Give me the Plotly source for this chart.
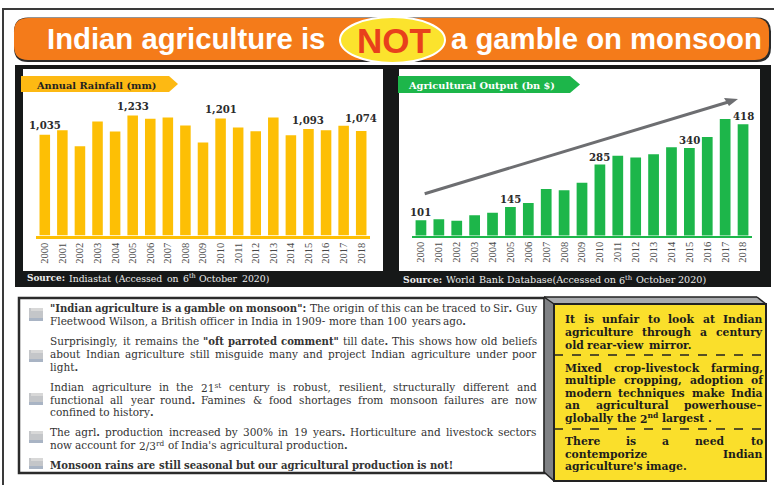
import re
import plotly.graph_objects as go

W, H = 774, 485

# ---------- data ----------
years = [str(y) for y in range(2000, 2019)]
rainfall = [1035, 1082, 918, 1172, 1069, 1233, 1199, 1213, 1130, 956,
            1201, 1110, 1072, 1213, 1031, 1093, 1082, 1127, 1074]
output = [101, 105, 100, 118, 126, 145, 158, 204, 200, 225,
          285, 314, 308, 319, 342, 340, 376, 435, 418]
rain_labelled = {"2000": "1,035", "2005": "1,233", "2010": "1,201", "2015": "1,093", "2018": "1,074"}
out_labelled = {"2000": "101", "2005": "145", "2010": "285", "2015": "340", "2018": "418"}

title_left = "Indian agriculture is"
title_not = "NOT"
title_right = "a gamble on monsoon"
rain_title = "Annual Rainfall (mm)"
out_title = "Agricultural Output (bn $)"
rain_source = "<b>Source:</b> Indiastat (Accessed on 6<sup>th</sup> October 2020)"
out_source = "<b>Source:</b> World Bank Database(Accessed on 6<sup>th</sup> October 2020)"

body_lines = [
    ('<b>"Indian agriculture is a gamble on monsoon":</b> The origin of this can be traced to Sir<b>.</b> Guy', True),
    ("Fleetwood Wilson, a British officer in India in 1909- more than 100 years ago<b>.</b>", False),
    ('Surprisingly, it remains the <b>"oft parroted comment"</b> till date<b>.</b> This shows how old beliefs', True),
    ("about Indian agriculture still misguide many and project Indian agriculture under poor", True),
    ("light<b>.</b>", False),
    ("Indian agriculture in the 21<sup>st</sup> century is robust, resilient, structurally different and", True),
    ("functional all year round<b>.</b> Famines &amp; food shortages from monsoon failures are now", True),
    ("confined to history<b>.</b>", False),
    ("The agrl<b>.</b> production increased by 300% in 19 years<b>.</b> Horticulture and livestock sectors", True),
    ("now account for 2/3<sup>rd</sup> of India's agricultural production<b>.</b>", False),
    ("<b>Monsoon rains are still seasonal but our agricultural production is not!</b>", False),
]
side_lines = [
    ("It is unfair to look at Indian", True),
    ("agriculture through a century", True),
    ("old rear-view mirror.", False),
    ("Mixed crop-livestock farming,", True),
    ("multiple cropping, adoption of", True),
    ("modern techniques make India", True),
    ("an agricultural powerhouse–", True),
    ("globally the 2<sup>nd</sup> largest .", False),
    ("There is a need to", True),
    ("contemporize Indian", True),
    ("agriculture's image.", False),
]

# ---------- layout constants ----------
body_y = [308, 321, 341, 354, 367, 387, 400, 412, 432, 445, 465]
side_y = [319, 332, 345, 368, 380, 393, 405, 418, 441, 454, 466]
bullet_y = [(308, 321), (350, 362), (393, 405), (431, 443), (458, 469)]
rain_rise = {"2018": 5}
SERIF = "Liberation Serif"
WIDE = "DejaVu Serif"
SANS = "Liberation Sans"

# DejaVu Serif character widths (em), used to justify lines word by word
LOW = "abcdefghijklmnopqrstuvwxyz"
UPP = "ABCDEFGHIJKLMNOPQRSTUVWXYZ"
REG = dict(zip(LOW, [.596,.64,.56,.64,.592,.37,.64,.642,.32,.32,.59,.32,.948,.642,.602,.64,.64,.478,.513,.402,.642,.565,.83,.564,.565,.526]))
REG.update(zip(UPP, [.722,.735,.765,.802,.73,.694,.799,.872,.395,.401,.747,.664,1.024,.875,.82,.673,.82,.753,.685,.667,.843,.722,1.028,.712,.66,.695]))
BLD = dict(zip(LOW, [.648,.699,.608,.699,.636,.43,.699,.727,.38,.362,.693,.38,1.058,.727,.667,.699,.699,.527,.563,.462,.727,.65,.961,.643,.65,.582]))
BLD.update(zip(UPP, [.776,.845,.796,.867,.762,.71,.854,.945,.468,.473,.869,.703,1.107,.914,.871,.752,.871,.831,.722,.744,.872,.776,1.138,.776,.714,.73]))
REG.update({".":.318, ",":.318, "-":.338, "–":.5, '"':.46, "'":.275, ":":.337, "!":.402, "/":.337, "&":.89, "%":.95, "(":.39, ")":.39, "$":.636})
BLD.update({".":.348, ",":.348, "-":.415, "–":.5, '"':.52, "'":.306, ":":.4, "!":.438, "/":.365, "&":1.005, "%":1.002, "(":.473, ")":.473, "$":.696})
for d_ in "0123456789":
    REG[d_] = .636
    BLD[d_] = .696


def word_width(word, size, bold):
    w, sup = 0.0, False
    for tok in re.split(r"(<[^>]+>|&amp;)", word):
        if tok == "<b>": bold = True
        elif tok == "</b>": bold = False
        elif tok == "<sup>": sup = True
        elif tok == "</sup>": sup = False
        elif tok == "&amp;":
            w += (BLD if bold else REG)["&"] * size
        elif tok:
            for c in tok:
                w += (BLD if bold else REG).get(c, .6) * size * (0.7 if sup else 1)
    return w


annotations = []


def text(x, y, s, size, color, family=WIDE, anchor="left"):
    annotations.append(dict(x=x / W, y=1 - y / H, xref="paper", yref="paper", text=s, showarrow=False,
                            xanchor=anchor, yanchor="middle", borderpad=0,
                            font=dict(family=family, size=size, color=color)))


def line(x0, x1, y, s, size, color, justify=True, bold=False, bold_scale=0.96):
    words = s.split(" ")
    state = bold
    items = []
    for wd in words:
        start = state
        wsize = size * bold_scale if (start or wd.startswith("<b>")) else size
        w = word_width(wd, wsize, start)
        for m in re.findall(r"</?b>", wd):
            state = m == "<b>"
        shown = wd
        if start:
            shown = "<b>" + shown
        if state:
            shown = shown + "</b>"
        items.append((shown, w, wsize))
    total = sum(it[1] for it in items)
    gap = (x1 - x0 - total) / (len(items) - 1) if justify and len(items) > 1 else 0.318 * size
    x = x0
    for shown, w, wsize in items:
        text(x, y, shown, wsize, color)
        x += w + gap


# ---------- shapes ----------
shapes = []


def rect(x0, y0, x1, y1, fill, ln=None, lw=0, layer="below"):
    shapes.append(dict(type="rect", xref="paper", yref="paper", x0=x0 / W, x1=x1 / W, y0=1 - y0 / H, y1=1 - y1 / H,
                       fillcolor=fill, line=dict(color=ln or fill, width=lw), layer=layer))


def poly(points, fill, layer="below"):
    d = "M" + " L".join(f"{x / W:.5f},{1 - y / H:.5f}" for x, y in points) + " Z"
    shapes.append(dict(type="path", xref="paper", yref="paper", path=d, fillcolor=fill, line=dict(width=0), layer=layer))


def round_rect(x0, y0, x1, y1, r, fill):
    X = lambda v: f"{v / W:.5f}"
    Y = lambda v: f"{1 - v / H:.5f}"
    d = (f"M{X(x0 + r)},{Y(y0)} L{X(x1 - r)},{Y(y0)} Q{X(x1)},{Y(y0)} {X(x1)},{Y(y0 + r)} "
         f"L{X(x1)},{Y(y1 - r)} Q{X(x1)},{Y(y1)} {X(x1 - r)},{Y(y1)} L{X(x0 + r)},{Y(y1)} "
         f"Q{X(x0)},{Y(y1)} {X(x0)},{Y(y1 - r)} L{X(x0)},{Y(y0 + r)} Q{X(x0)},{Y(y0)} {X(x0 + r)},{Y(y0)} Z")
    shapes.append(dict(type="path", xref="paper", yref="paper", path=d, fillcolor=fill, line=dict(width=0), layer="below"))


def hline(x0, x1, y0, y1, color, width, dash="solid", layer="below"):
    shapes.append(dict(type="line", xref="paper", yref="paper", x0=x0 / W, x1=x1 / W, y0=1 - y0 / H, y1=1 - y1 / H,
                       line=dict(color=color, width=width, dash=dash), layer=layer))


# outer frame
rect(3, 9, 790, 500, "white", "#3a3a3a", 2)
# banner
round_rect(14, 17.5, 771, 62, 14, "#2a2a2a")
round_rect(14, 18, 769, 60, 14, "#F47B1A")
# ellipse
shapes.append(dict(type="circle", xref="paper", yref="paper", x0=340 / W, x1=445 / W, y0=1 - 63 / H, y1=1 - 17 / H,
                   fillcolor="#FBE32D", line=dict(color="white", width=2), layer="below"))
# black panel
rect(15, 65, 771, 287, "#161818")
rect(23, 69, 383, 271, "white")
rect(399, 69, 760, 271, "white")
# ribbons
poly([(21, 76), (169, 76), (178, 84), (169, 92), (21, 92)], "#FDB913")
poly([(398, 76), (570, 76), (580, 84.5), (570, 93), (398, 93)], "#1DB64A")
# growth arrow
hline(424.7, 730, 193.7, 101.5, "#6D6E71", 3, layer="above")
poly([(738, 99), (724, 98), (729, 106)], "#6D6E71", layer="above")
# text box
rect(19, 298, 545, 473, "white", "#2b2b2b", 2.5)
for y0, y1 in bullet_y:
    rect(29, y0, 43, y1, "#C4C6C9")
    rect(31, y0, 43, y0 + 3, "#D8D8D8")
    rect(29, y1 - 3, 43, y1, "#A9B4C4")
# 3-D side box
poly([(544, 297), (757, 297), (766, 304), (554, 304)], "#A9ABAE")
poly([(544, 297), (554, 304), (554, 481), (544, 472)], "#808285")
hline(544, 757, 297, 297, "#222222", 1.5)
hline(757, 766, 297, 304, "#222222", 1.5)
hline(544, 554, 297, 304, "#222222", 1.5)
hline(544, 544, 297, 472, "#222222", 1.5)
hline(544, 554, 472, 481, "#222222", 1.5)
rect(554, 304, 766, 481, "#FADF2B", "#222222", 2)
hline(554, 766, 355, 355, "#222222", 1.5, "dash")
hline(554, 766, 429, 429, "#222222", 1.5, "dash")

# ---------- texts ----------
text(186, 38.5, f"<b>{title_left}</b>", 29.3, "white", SANS, "center")
text(606, 38.5, f"<b>{title_right}</b>", 29.3, "white", SANS, "center")
text(393.5, 40, f"<b>{title_not}</b>", 35, "#E8401C", SANS, "center")
text(35, 85, f"<b>{rain_title}</b>", 9.8, "#231F20")
text(407, 85.5, f"<b>{out_title}</b>", 9.8, "white")
line(26, 268, 278, rain_source, 9.3, "#EDEDED")
line(402, 705.6, 279.5, out_source, 9.6, "#EDEDED")
for (s, j), y in zip(body_lines, body_y):
    line(49, 535.7, y, s, 10.5, "#333333", j)
for (s, j), y in zip(side_lines, side_y):
    line(564, 761.7, y, s, 10.8, "#1c1c1c", j, bold=True, bold_scale=1)

# value labels, anchored to the bars through the axes (category position = index)
for yr, lab in rain_labelled.items():
    i = years.index(yr)
    annotations.append(dict(x=i, y=rainfall[i], xref="x", yref="y", text=f"<b>{lab}</b>",
                            showarrow=False, yanchor="bottom", yshift=rain_rise.get(yr, 1.5),
                            font=dict(family=WIDE, size=10.2, color="#2b2b2b")))
for yr, lab in out_labelled.items():
    i = years.index(yr)
    annotations.append(dict(x=i, y=output[i], xref="x2", yref="y2", text=f"<b>{lab}</b>",
                            showarrow=False, yanchor="bottom", yshift=0,
                            font=dict(family=WIDE, size=10.2, color="#2b2b2b")))

# ---------- figure ----------
fig = go.Figure()
fig.add_bar(x=years, y=rainfall, xaxis="x", yaxis="y", marker=dict(color="#FDBF05", line=dict(width=0)), hoverinfo="x+y")
fig.add_bar(x=years, y=output, xaxis="x2", yaxis="y2", marker=dict(color="#1DB64A", line=dict(width=0)), hoverinfo="x+y")


def xax(x0, x1, color, lw):
    return dict(domain=[x0 / W, x1 / W], type="category", range=[-0.5, 18.5], showgrid=False, zeroline=False,
                showline=True, linecolor=color, linewidth=lw, ticks="", tickangle=-90,
                tickfont=dict(family=SERIF, size=10.5, color="#4a4a4a"), tickmode="linear", dtick=1)


def yax(vmin, vmax):
    return dict(domain=[1 - 235.5 / H, 1 - 70 / H], range=[vmin, vmax], visible=False, fixedrange=True)


fig.update_layout(
    width=W, height=H, autosize=False, margin=dict(l=0, r=0, t=0, b=0),
    paper_bgcolor="white", plot_bgcolor="rgba(0,0,0,0)", showlegend=False, bargap=0.4,
    xaxis=xax(36, 370, "#FDBF05", 3), yaxis=yax(0, 1700),
    xaxis2=dict(xax(412, 752, "#1DB64A", 2), anchor="y2"), yaxis2=dict(yax(51, 597), anchor="x2"),
    shapes=shapes, annotations=annotations,
)
fig.write_html("out.html", post_script="document.body.style.margin='0';document.body.style.overflow='hidden';",
               config=dict(displayModeBar=False))
